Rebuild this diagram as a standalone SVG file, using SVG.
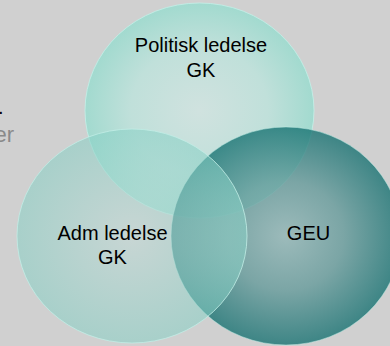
<svg xmlns="http://www.w3.org/2000/svg" width="390" height="346" viewBox="0 0 390 346">
  <defs>
    <radialGradient id="gTop" cx="0.5" cy="0.5" r="0.5">
      <stop offset="0" stop-color="rgb(208,226,223)"/>
      <stop offset="0.6" stop-color="rgb(192,224,218)"/>
      <stop offset="1" stop-color="rgb(162,218,207)"/>
    </radialGradient>
    <radialGradient id="gLeft" cx="0.5" cy="0.5" r="0.5">
      <stop offset="0" stop-color="rgb(193,219,215)"/>
      <stop offset="1" stop-color="rgb(135,208,197)"/>
    </radialGradient>
    <radialGradient id="gRight" cx="0.5" cy="0.5" r="0.5">
      <stop offset="0" stop-color="rgb(140,180,180)"/>
      <stop offset="0.5" stop-color="rgb(96,152,152)"/>
      <stop offset="1" stop-color="rgb(16,110,110)"/>
    </radialGradient>
  </defs>
  <style>
    .lbl { font-family: "Liberation Sans", Arial, sans-serif; font-size: 20px; fill: #000; text-anchor: middle; }
    .edge { stroke: #c2ede6; stroke-width: 1; }
  </style>
  <rect x="0" y="0" width="390" height="346" fill="#d0d0d0"/>
  <text x="-2" y="113.5" font-family="Liberation Sans, Arial, sans-serif" font-size="20" fill="#000">.</text>
  <text x="14" y="142" font-family="Liberation Sans, Arial, sans-serif" font-size="22" fill="#8a8a8a" text-anchor="end">er</text>

  <g id="node-politisk">
    <ellipse cx="199.5" cy="110.5" rx="114.5" ry="107.5" fill="url(#gTop)" class="edge" stroke-opacity="0.9"/>
  </g>
  <g id="node-geu">
    <ellipse cx="286" cy="236" rx="115" ry="109" fill="url(#gRight)" fill-opacity="0.76" class="edge" stroke-opacity="0.5"/>
  </g>
  <g id="node-adm">
    <ellipse cx="132" cy="236" rx="115" ry="107" fill="url(#gLeft)" fill-opacity="0.55" class="edge" stroke-opacity="0.8"/>
  </g>
  <g id="labels">
    <text class="lbl" x="201" y="52">Politisk ledelse</text>
    <text class="lbl" x="201" y="77">GK</text>
    <text class="lbl" x="308.5" y="240">GEU</text>
    <text class="lbl" x="112.5" y="240">Adm ledelse</text>
    <text class="lbl" x="112.5" y="264">GK</text>
  </g>
  <g id="connectors"/>
</svg>
